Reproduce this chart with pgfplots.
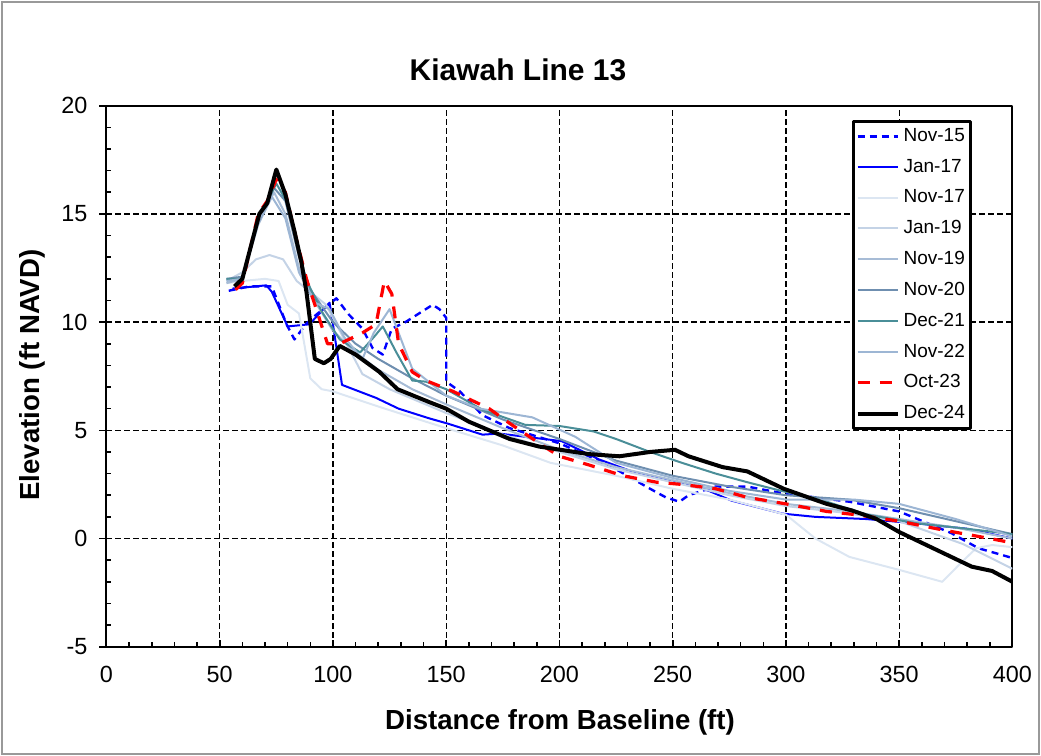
\documentclass[border=0pt]{standalone}
\usepackage{pgfplots}
\pgfplotsset{compat=1.18}
\usepackage{fontspec}
\setmainfont{Liberation Sans}
\definecolor{cNovA}{HTML}{DCE6F2}
\definecolor{cJanB}{HTML}{C4D3E6}
\definecolor{cNovB}{HTML}{A7BCD6}
\definecolor{cNovC}{HTML}{6F8FB0}
\definecolor{cDecA}{HTML}{4A8E98}
\definecolor{cNovD}{HTML}{9DB6D4}
\begin{document}
\begin{tikzpicture}[x=1pt,y=1pt]
\path[use as bounding box] (0,0) rectangle (520.5,378);
\draw[gray!80, line width=0.8pt] (1,1) rectangle (519.5,377);
\begin{axis}[
  at={(47,50.5)}, anchor=south west,
  width=453pt, height=270.5pt, scale only axis,
  xmin=0, xmax=400, ymin=-5, ymax=20,
  xtick={0,50,...,400}, ytick={-5,0,...,20},
  minor x tick num=4, minor y tick num=4,
  tick pos=left,
  grid=major,
  major grid style={black, dash pattern=on 3pt off 1.5pt, line width=0.7pt},
  axis line style={line width=1pt},
  tick align=inside, major tick length=3.5pt, minor tick length=2.5pt,
  every tick/.style={black, line width=0.8pt},
  every major y tick/.append style={xshift=-3.5pt},
  /pgf/number format/assume math mode=true,
  ticklabel style={font=\fontsize{11.7}{14}\selectfont},
  yticklabel style={xshift=-6pt},
  xticklabel style={yshift=-6pt},
  legend style={at={(0.823,0.974)}, anchor=north west, draw=black, line width=1.5pt,
    fill=white, font=\fontsize{9.5}{11}\selectfont, row sep=3.3pt,
    inner xsep=1pt, inner ysep=1.5pt},
  legend cell align=left,
  legend image code/.code={\draw[#1] (0pt,0pt) -- (20pt,0pt);},
  line join=round,
]
\addplot[blue, line width=1.2pt, dash pattern=on 3.5pt off 2.5pt] coordinates {
(54,11.45)(63,11.65)(73,11.65)(79.5,9.9)(83,9.2)(88,9.9)(92.7,10.35)(101.5,11.1)(107,10.35)(113,9.7)(117.5,8.8)(122,8.5)(126,9.7)(132,10.0)(144,10.8)(147,10.6)(150,10.2)(150,7.25)(156,6.8)(166,5.7)(178,5.1)(200,4.4)(213,3.8)(225,3.2)(240,2.3)(247,1.9)(253,1.7)(257,2.0)(269,2.4)(283,2.4)(298,2.1)(328,1.7)(350,1.25)(373,0.25)(385,-0.45)(400,-0.9)};
\addlegendentry{Nov-15}
\addplot[blue, line width=1pt] coordinates {
(55.6,11.55)(70.6,11.7)(73,11.4)(80,9.8)(89.6,9.9)(98.5,10.9)(100,9.9)(104,7.1)(119,6.5)(129,6.0)(142.6,5.55)(151,5.3)(166,4.8)(173.5,4.85)(185,4.7)(201,4.5)(217.6,3.65)(232,3.1)(247,2.7)(257,2.5)(266,2.2)(276,1.75)(298.5,1.15)(313,1.0)(335.5,0.9)(357.6,0.7)(380,0.45)(400,0.0)};
\addlegendentry{Jan-17}
\addplot[cNovA, line width=1pt] coordinates {
(53,11.8)(60,11.9)(70,12.0)(76,11.9)(80,10.8)(85,10.4)(90,7.4)(95,6.9)(100,6.8)(120,6.1)(150,5.1)(175,4.3)(196,3.5)(225,2.9)(250,2.3)(275,1.8)(300,1.1)(313,0.0)(328,-0.85)(350,-1.45)(369,-2.0)(378,-1.05)(384,-0.45)(391,-0.3)(400,-0.4)};
\addlegendentry{Nov-17}
\addplot[cJanB, line width=1pt] coordinates {
(53,11.9)(60,12.3)(66,12.9)(72,13.1)(78,12.9)(84,11.9)(97,10.8)(113,7.6)(125,6.9)(150,5.8)(175,4.8)(200,4.0)(225,3.2)(250,2.6)(275,2.0)(300,1.5)(325,1.2)(350,0.8)(378,-0.25)(400,-1.4)};
\addlegendentry{Jan-19}
\addplot[cNovB, line width=1pt] coordinates {
(53,11.8)(60,12.0)(67,14.5)(74,16.0)(79,15.0)(85,12.5)(90,11.3)(100,9.6)(110,8.6)(120,7.8)(135,6.9)(150,6.2)(175,5.1)(200,4.1)(225,3.3)(250,2.7)(275,2.1)(300,1.6)(325,1.3)(350,0.9)(375,0.5)(400,0.0)};
\addlegendentry{Nov-19}
\addplot[cNovC, line width=1pt] coordinates {
(53,12.0)(60,12.1)(67,14.6)(74,16.2)(79,15.6)(85,13.0)(90,11.5)(100,10.0)(110,9.0)(120,8.3)(135,7.4)(150,6.6)(175,5.5)(200,4.6)(225,3.6)(250,2.9)(275,2.4)(300,2.0)(328,1.8)(350,1.4)(375,0.8)(400,0.2)};
\addlegendentry{Nov-20}
\addplot[cDecA, line width=1pt] coordinates {
(53,12.0)(60,12.0)(67,14.8)(75,16.4)(80,15.5)(88,12.0)(95,10.5)(103,9.2)(112,8.6)(118,9.3)(122,9.8)(128,8.6)(135,7.3)(141,7.25)(150,6.9)(166,5.95)(185,5.25)(200,5.2)(215,4.95)(225,4.6)(240,4.0)(254,3.5)(269,3.0)(283,2.6)(298,2.2)(315,1.8)(336,1.1)(358,0.7)(380,0.45)(400,0.2)};
\addlegendentry{Dec-21}
\addplot[cNovD, line width=1pt] coordinates {
(53,11.9)(60,12.0)(66,14.5)(73,15.8)(79,14.8)(85,12.3)(92,10.9)(98.5,10.6)(105,9.3)(113,8.3)(118,9.5)(125,10.6)(135,7.85)(150,6.6)(165,6.0)(188,5.6)(207,4.7)(225,3.5)(250,2.8)(275,2.2)(300,1.8)(330,1.8)(350,1.6)(375,0.9)(400,0.1)};
\addlegendentry{Nov-22}
\addplot[red, line width=1.6pt, dash pattern=on 6pt off 5pt] coordinates {
(57,11.5)(60,11.8)(67,15.0)(71,15.6)(75,16.6)(79,16.0)(83,14.2)(88.3,12.0)(97.6,9.0)(103,9.0)(113,9.5)(119,9.9)(122.7,11.9)(126,11.3)(129,9.0)(135,7.7)(141,7.3)(153,6.8)(163,6.3)(169,6.0)(179,5.25)(194,4.2)(200,3.8)(213,3.4)(228,2.9)(243,2.6)(254,2.5)(269,2.3)(283,1.9)(300,1.6)(318,1.25)(331,1.1)(350,0.8)(369,0.4)(390,0.0)(400,-0.2)};
\addlegendentry{Oct-23}
\addplot[black, line width=2pt] coordinates {
(56.5,11.65)(60,12.0)(67.5,15.0)(71,15.5)(75,17.05)(79,15.9)(83,14.2)(86,12.8)(88.3,11.4)(92,8.3)(96,8.1)(99,8.3)(103,8.9)(110,8.5)(120.5,7.7)(128.5,6.9)(142.6,6.3)(150,6.0)(160,5.4)(178,4.6)(191,4.25)(213,3.9)(226.5,3.8)(240,4.0)(251,4.1)(257,3.8)(272,3.3)(283,3.1)(299,2.3)(318,1.6)(329,1.3)(340,0.9)(350,0.3)(365,-0.45)(382,-1.3)(391,-1.5)(400,-2.0)};
\addlegendentry{Dec-24}
\end{axis}
\node[font=\bfseries\fontsize{15}{18}\selectfont] at (259,343) {Kiawah Line 13};
\node[font=\bfseries\fontsize{13.8}{16}\selectfont] at (280,17) {Distance from Baseline (ft)};
\node[font=\bfseries\fontsize{13.8}{16}\selectfont, rotate=90] at (16,190.5) {Elevation (ft NAVD)};
\end{tikzpicture}
\end{document}
